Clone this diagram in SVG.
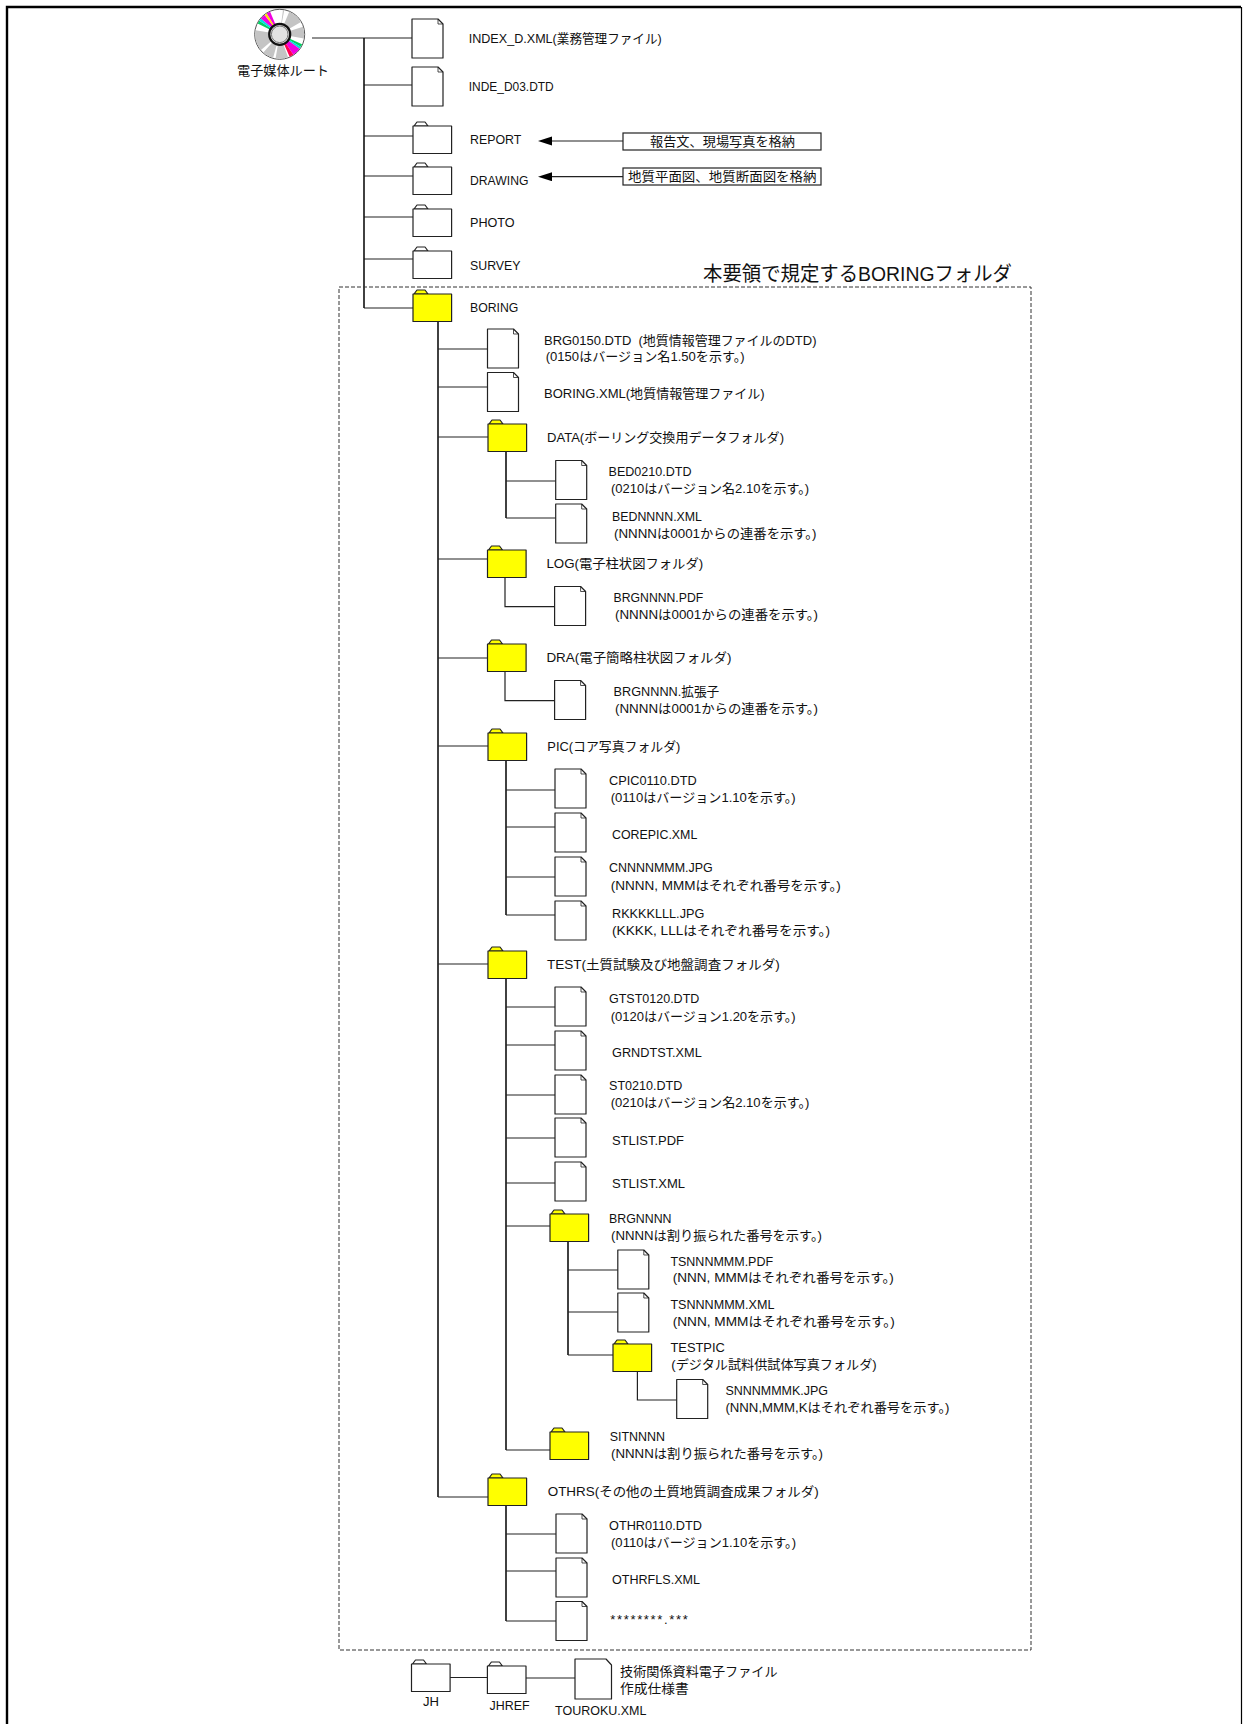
<svg xmlns="http://www.w3.org/2000/svg" width="1243" height="1724" viewBox="0 0 1243 1724">
<style>
text{font-family:"Liberation Sans","Noto Sans CJK JP",sans-serif;font-size:13px;fill:#111}
.big{font-size:20px}
.ln{fill:none;stroke:#222;stroke-width:1.2}
.tr{fill:none;stroke:#111;stroke-width:1.6}
.y{fill:#ffff00}
.w{fill:#fff}
.shape{stroke:#222;stroke-width:1.2;stroke-linejoin:round}
.disc{fill:none;stroke-width:14}
</style>
<defs>
<g id="file" class="shape"><path d="M0 0H26L31 5V39H0Z"/><path d="M26 0V5H31" fill="none" stroke-width=".8"/></g>
<g id="folder" class="shape"><path d="M1 4L4 0H12L15 4Z"/><rect x="0" y="4" width="38.6" height="27.5"/></g>
<marker id="ah" markerWidth="14" markerHeight="10" refX="0" refY="4.5" orient="auto" markerUnits="userSpaceOnUse"><path d="M14 4.5L0 0V9Z" fill="#000"/></marker>
</defs>
<path id="frame" d="M7 1724V7H1241" fill="none" stroke="#000" stroke-width="2.4"/>
<path id="frame-right" d="M1241.5 7V1724" fill="none" stroke="#000" stroke-width="1.2"/>
<g id="connectors">
<path class="ln" d="M312 38H412M364 85H412M364 136H413M364 176H413M364 217H413M364 259H413M364 308H413"/>
<path class="tr" d="M364 38V308"/>
<path class="tr" d="M438 321V1497"/>
<path class="ln" d="M438 349H487.500M438 387H487.500M438 437H488M438 559H488M438 658H488M438 746H488M438 964H488M438 1497H488"/>
<path class="tr" d="M506 451V518"/><path class="ln" d="M506 481H555.700M506 518H555.700"/>
<path class="ln" d="M505 577V606.700H554.600M505 671V700.700H554.600"/>
<path class="tr" d="M506 761V915"/><path class="ln" d="M506 790H555M506 827H555M506 877H555M506 915H555"/>
<path class="tr" d="M506 978V1450"/><path class="ln" d="M506 1007H555M506 1045H555M506 1095H555M506 1138H555M506 1183H555M506 1226H550M506 1450H550"/>
<path class="tr" d="M568 1241V1355"/><path class="ln" d="M568 1270H618M568 1312H618M568 1355H613"/>
<path class="ln" d="M637.400 1370V1400H676.700"/>
<path class="tr" d="M506 1505V1621"/><path class="ln" d="M506 1534H556M506 1571H556M506 1621H556"/>
<path class="ln" d="M450 1677.500H487.400M526 1678H575"/>
<path class="ln" d="M623 141H552" marker-end="url(#ah)"/>
<path class="ln" d="M623 176.700H552" marker-end="url(#ah)"/>
</g>
<g id="boring-scope">
<rect x="339" y="287" width="692" height="1363" fill="none" stroke="#333" stroke-width="1" stroke-dasharray="4 2"/>
<text class="big" x="703" y="281" textLength="309" lengthAdjust="spacingAndGlyphs">本要領で規定するBORINGフォルダ</text>
</g>
<g id="root">
<circle cx="279.700" cy="34.300" r="25" fill="#fff" stroke="#555" stroke-width="1"/>
<g transform="rotate(-90 279.700 34.300)">
<circle class="disc" cx="279.700" cy="34.300" r="17.500" pathLength="360" stroke="#c4c4c4" stroke-dasharray="0 8 3 12 37 12 28 60 30 6 26 8 50 80"/>
<circle class="disc" cx="279.700" cy="34.300" r="17.500" pathLength="360" stroke="#00d060" stroke-dasharray="0 296 8 56"/>
<circle class="disc" cx="279.700" cy="34.300" r="17.500" pathLength="360" stroke="#00e0e0" stroke-dasharray="0 304 6 50"/>
<circle class="disc" cx="279.700" cy="34.300" r="17.500" pathLength="360" stroke="#f000e0" stroke-dasharray="0 310 12 38"/>
<circle class="disc" cx="279.700" cy="34.300" r="17.500" pathLength="360" stroke="#ffe000" stroke-dasharray="0 322 6 32"/>
<circle class="disc" cx="279.700" cy="34.300" r="17.500" pathLength="360" stroke="#f000e0" stroke-dasharray="0 328 9 23"/>
<circle class="disc" cx="279.700" cy="34.300" r="17.500" pathLength="360" stroke="#00d060" stroke-dasharray="0 114 7 239"/>
<circle class="disc" cx="279.700" cy="34.300" r="17.500" pathLength="360" stroke="#00e0e0" stroke-dasharray="0 121 5 234"/>
<circle class="disc" cx="279.700" cy="34.300" r="17.500" pathLength="360" stroke="#f000e0" stroke-dasharray="0 126 20 214"/>
<circle class="disc" cx="279.700" cy="34.300" r="17.500" pathLength="360" stroke="#ff0050" stroke-dasharray="0 146 10 204"/>
</g>
<circle cx="279.700" cy="34.300" r="10.500" fill="#e2e2e2" stroke="#111" stroke-width="2.200"/>
<circle cx="279.700" cy="34.300" r="8.300" fill="none" stroke="#777" stroke-width="1"/>
<text x="237" y="75" textLength="92" lengthAdjust="spacingAndGlyphs">電子媒体ルート</text>
</g>
<g id="index-d"><use href="#file" class="w" x="412" y="19"/><text x="468.700" y="43" textLength="193" lengthAdjust="spacingAndGlyphs">INDEX_D.XML(業務管理ファイル)</text></g>
<g id="inde-d03"><use href="#file" class="w" x="412" y="67"/><text x="468.700" y="91" textLength="85" lengthAdjust="spacingAndGlyphs">INDE_D03.DTD</text></g>
<g id="report"><use href="#folder" class="w" x="413" y="122"/><text x="470" y="144" textLength="51.300" lengthAdjust="spacingAndGlyphs">REPORT</text></g>
<g id="drawing"><use href="#folder" class="w" x="413" y="163"/><text x="470" y="185" textLength="58.400" lengthAdjust="spacingAndGlyphs">DRAWING</text></g>
<g id="photo"><use href="#folder" class="w" x="413" y="205"/><text x="470" y="227" textLength="44.700" lengthAdjust="spacingAndGlyphs">PHOTO</text></g>
<g id="survey"><use href="#folder" class="w" x="413" y="247"/><text x="470" y="270" textLength="50.500" lengthAdjust="spacingAndGlyphs">SURVEY</text></g>
<g id="note-report"><rect x="623" y="133" width="198" height="17" fill="#fff" stroke="#222" stroke-width="1.2"/><text x="650" y="146" textLength="145" lengthAdjust="spacingAndGlyphs">報告文、現場写真を格納</text></g>
<g id="note-drawing"><rect x="623" y="168" width="198" height="17" fill="#fff" stroke="#222" stroke-width="1.2"/><text x="628" y="181" textLength="188.500" lengthAdjust="spacingAndGlyphs">地質平面図、地質断面図を格納</text></g>
<g id="boring"><use href="#folder" class="y" x="413" y="290"/><text x="470" y="312" textLength="48.400" lengthAdjust="spacingAndGlyphs">BORING</text></g>
<g id="brg0150"><use href="#file" class="w" x="487.500" y="329"/><text x="544" y="345" textLength="272.500" lengthAdjust="spacingAndGlyphs">BRG0150.DTD&#160;&#160;(地質情報管理ファイルのDTD)</text><text x="545.700" y="361" textLength="199" lengthAdjust="spacingAndGlyphs">(0150はバージョン名1.50を示す。)</text></g>
<g id="boring-xml"><use href="#file" class="w" x="487.500" y="372.500"/><text x="544" y="398" textLength="220.700" lengthAdjust="spacingAndGlyphs">BORING.XML(地質情報管理ファイル)</text></g>
<g id="data"><use href="#folder" class="y" x="488" y="420"/><text x="547" y="442" textLength="237" lengthAdjust="spacingAndGlyphs">DATA(ボーリング交換用データフォルダ)</text></g>
<g id="bed0210"><use href="#file" class="w" x="555.700" y="460.500"/><text x="608.600" y="476" textLength="82.900" lengthAdjust="spacingAndGlyphs">BED0210.DTD</text><text x="611" y="493" textLength="198" lengthAdjust="spacingAndGlyphs">(0210はバージョン名2.10を示す。)</text></g>
<g id="bednnnn"><use href="#file" class="w" x="555.700" y="504"/><text x="612" y="521" textLength="90" lengthAdjust="spacingAndGlyphs">BEDNNNN.XML</text><text x="614" y="538" textLength="202.500" lengthAdjust="spacingAndGlyphs">(NNNNは0001からの連番を示す。)</text></g>
<g id="log"><use href="#folder" class="y" x="487.500" y="546"/><text x="546.400" y="568" textLength="156.800" lengthAdjust="spacingAndGlyphs">LOG(電子柱状図フォルダ)</text></g>
<g id="brg-pdf"><use href="#file" class="w" x="554.600" y="586.500"/><text x="613.600" y="602" textLength="89.600" lengthAdjust="spacingAndGlyphs">BRGNNNN.PDF</text><text x="615" y="619" textLength="203" lengthAdjust="spacingAndGlyphs">(NNNNは0001からの連番を示す。)</text></g>
<g id="dra"><use href="#folder" class="y" x="487.500" y="640"/><text x="546.400" y="662" textLength="185" lengthAdjust="spacingAndGlyphs">DRA(電子簡略柱状図フォルダ)</text></g>
<g id="brg-ext"><use href="#file" class="w" x="554.600" y="680.500"/><text x="613.600" y="696" textLength="105.700" lengthAdjust="spacingAndGlyphs">BRGNNNN.拡張子</text><text x="615" y="713" textLength="203" lengthAdjust="spacingAndGlyphs">(NNNNは0001からの連番を示す。)</text></g>
<g id="pic"><use href="#folder" class="y" x="488" y="729"/><text x="547.300" y="751" textLength="133" lengthAdjust="spacingAndGlyphs">PIC(コア写真フォルダ)</text></g>
<g id="cpic"><use href="#file" class="w" x="555" y="769"/><text x="609" y="785" textLength="87.700" lengthAdjust="spacingAndGlyphs">CPIC0110.DTD</text><text x="610.700" y="802" textLength="185" lengthAdjust="spacingAndGlyphs">(0110はバージョン1.10を示す。)</text></g>
<g id="corepic"><use href="#file" class="w" x="555" y="813"/><text x="612" y="839" textLength="85.300" lengthAdjust="spacingAndGlyphs">COREPIC.XML</text></g>
<g id="cnnn"><use href="#file" class="w" x="555" y="857"/><text x="609" y="872" textLength="103.700" lengthAdjust="spacingAndGlyphs">CNNNNMMM.JPG</text><text x="610.700" y="890" textLength="230" lengthAdjust="spacingAndGlyphs">(NNNN, MMMはそれぞれ番号を示す。)</text></g>
<g id="rkkk"><use href="#file" class="w" x="555" y="901"/><text x="612" y="918" textLength="92.300" lengthAdjust="spacingAndGlyphs">RKKKKLLL.JPG</text><text x="612" y="935" textLength="218" lengthAdjust="spacingAndGlyphs">(KKKK, LLLはそれぞれ番号を示す。)</text></g>
<g id="test"><use href="#folder" class="y" x="488" y="947"/><text x="547" y="969" textLength="232.700" lengthAdjust="spacingAndGlyphs">TEST(土質試験及び地盤調査フォルダ)</text></g>
<g id="gtst"><use href="#file" class="w" x="555" y="987"/><text x="609" y="1003" textLength="90.300" lengthAdjust="spacingAndGlyphs">GTST0120.DTD</text><text x="610.700" y="1021" textLength="185" lengthAdjust="spacingAndGlyphs">(0120はバージョン1.20を示す。)</text></g>
<g id="grndtst"><use href="#file" class="w" x="555" y="1031"/><text x="612" y="1057" textLength="89.700" lengthAdjust="spacingAndGlyphs">GRNDTST.XML</text></g>
<g id="st0210"><use href="#file" class="w" x="555" y="1075"/><text x="609" y="1090" textLength="73.300" lengthAdjust="spacingAndGlyphs">ST0210.DTD</text><text x="610.700" y="1107" textLength="198.700" lengthAdjust="spacingAndGlyphs">(0210はバージョン名2.10を示す。)</text></g>
<g id="stlist-pdf"><use href="#file" class="w" x="555" y="1118"/><text x="612" y="1145" textLength="72" lengthAdjust="spacingAndGlyphs">STLIST.PDF</text></g>
<g id="stlist-xml"><use href="#file" class="w" x="555" y="1162"/><text x="612" y="1188" textLength="73" lengthAdjust="spacingAndGlyphs">STLIST.XML</text></g>
<g id="brgnnnn"><use href="#folder" class="y" x="550" y="1210"/><text x="609" y="1223" textLength="62.500" lengthAdjust="spacingAndGlyphs">BRGNNNN</text><text x="611" y="1240" textLength="211" lengthAdjust="spacingAndGlyphs">(NNNNは割り振られた番号を示す。)</text></g>
<g id="ts-pdf"><use href="#file" class="w" x="617.800" y="1250"/><text x="670.400" y="1266" textLength="102.700" lengthAdjust="spacingAndGlyphs">TSNNNMMM.PDF</text><text x="672.700" y="1282" textLength="221" lengthAdjust="spacingAndGlyphs">(NNN, MMMはそれぞれ番号を示す。)</text></g>
<g id="ts-xml"><use href="#file" class="w" x="617.800" y="1293"/><text x="670.400" y="1309" textLength="104" lengthAdjust="spacingAndGlyphs">TSNNNMMM.XML</text><text x="672.700" y="1326" textLength="222" lengthAdjust="spacingAndGlyphs">(NNN, MMMはそれぞれ番号を示す。)</text></g>
<g id="testpic"><use href="#folder" class="y" x="613" y="1340"/><text x="670.400" y="1352" textLength="54.500" lengthAdjust="spacingAndGlyphs">TESTPIC</text><text x="671.300" y="1369" textLength="205.400" lengthAdjust="spacingAndGlyphs">(デジタル試料供試体写真フォルダ)</text></g>
<g id="snnn"><use href="#file" class="w" x="676.700" y="1379.500"/><text x="725.400" y="1395" textLength="102.700" lengthAdjust="spacingAndGlyphs">SNNNMMMK.JPG</text><text x="725.400" y="1412" textLength="224" lengthAdjust="spacingAndGlyphs">(NNN,MMM,Kはそれぞれ番号を示す。)</text></g>
<g id="sitnnnn"><use href="#folder" class="y" x="550" y="1428"/><text x="609.700" y="1440.500" textLength="55.400" lengthAdjust="spacingAndGlyphs">SITNNNN</text><text x="611" y="1458" textLength="212" lengthAdjust="spacingAndGlyphs">(NNNNは割り振られた番号を示す。)</text></g>
<g id="othrs"><use href="#folder" class="y" x="488" y="1474"/><text x="547.700" y="1496" textLength="271" lengthAdjust="spacingAndGlyphs">OTHRS(その他の土質地質調査成果フォルダ)</text></g>
<g id="othr0110"><use href="#file" class="w" x="556" y="1514"/><text x="609" y="1530" textLength="92.900" lengthAdjust="spacingAndGlyphs">OTHR0110.DTD</text><text x="611" y="1547" textLength="185" lengthAdjust="spacingAndGlyphs">(0110はバージョン1.10を示す。)</text></g>
<g id="othrfls"><use href="#file" class="w" x="556" y="1558"/><text x="612" y="1583.500" textLength="88" lengthAdjust="spacingAndGlyphs">OTHRFLS.XML</text></g>
<g id="wild"><use href="#file" class="w" x="556" y="1601.500"/><text x="610.200" y="1624" textLength="77.700">********.***</text></g>
<g id="jh"><use href="#folder" class="w" x="411.500" y="1660"/><text x="423" y="1706" textLength="16" lengthAdjust="spacingAndGlyphs">JH</text></g>
<g id="jhref"><use href="#folder" class="w" x="487.400" y="1662"/><text x="489.600" y="1710" textLength="40" lengthAdjust="spacingAndGlyphs">JHREF</text></g>
<g id="touroku"><path class="shape w" d="M575 1659H606L611.500 1665V1699H575Z"/><text x="555" y="1714.500" textLength="91.500" lengthAdjust="spacingAndGlyphs">TOUROKU.XML</text><text x="620" y="1676" textLength="157.600" lengthAdjust="spacingAndGlyphs">技術関係資料電子ファイル</text><text x="620" y="1692.600" textLength="68.750" lengthAdjust="spacingAndGlyphs">作成仕様書</text></g>
</svg>
